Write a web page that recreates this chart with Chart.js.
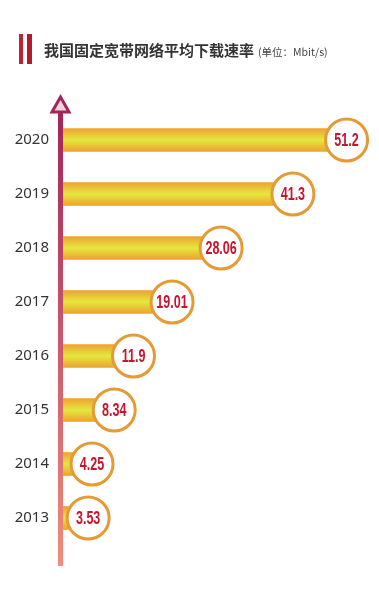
<!DOCTYPE html>
<html>
<head>
<meta charset="utf-8">
<script src="https://cdn.jsdelivr.net/npm/chart.js@4"></script>
<style>
  html, body { margin: 0; padding: 0; background: #fff; }
  #wrap { position: relative; width: 379px; height: 600px; }
  #title { position: absolute; left: 0; top: 34px; height: 30px; width: 379px; }
  .bar1 { position: absolute; left: 19px; top: 0; width: 4px; height: 30px; background: #c21f38; }
  .bar2 { position: absolute; left: 27px; top: 0; width: 5px; height: 30px; background: #b3182f; }
  .txt { position: absolute; left: 44px; top: 3px; white-space: nowrap;
         font-family: "Noto Sans CJK SC", sans-serif; color: #333; }
  .main { font-size: 15px; font-weight: bold; }
  .unit { font-size: 10.5px; color: #444; margin-left: 4px; }
  #chartBox { position: absolute; left: 0; top: 0; width: 379px; height: 600px; }
</style>
</head>
<body>
<div id="wrap">
  <div id="chartBox"><canvas id="myChart"></canvas></div>
  <div id="title">
    <div class="bar1"></div><div class="bar2"></div>
    <div class="txt"><span class="main">我国固定宽带网络平均下载速率</span><span class="unit">(单位：Mbit/s)</span></div>
  </div>
</div>
<script>
// data
const years = ['2020', '2019', '2018', '2017', '2016', '2015', '2014', '2013'];
const speeds = [51.2, 41.3, 28.06, 19.01, 11.9, 8.34, 4.25, 3.53];
const speedLabels = ['51.2', '41.3', '28.06', '19.01', '11.9', '8.34', '4.25', '3.53'];

// gradient for each bar (orange edges, yellow middle)
function barFill(context) {
    const chart = context.chart;
    const yScale = chart.scales.y;
    if (!yScale || !chart.chartArea) return '#e6c83a';
    const y = yScale.getPixelForValue(context.dataIndex);
    const g = chart.ctx.createLinearGradient(0, y - 12, 0, y + 12);
    g.addColorStop(0, '#ee9e30');
    g.addColorStop(0.5, '#e4e83e');
    g.addColorStop(1, '#ee9e30');
    return g;
}

// axis line with arrow and value bubbles
const decorPlugin = {
    id: 'decor',
    afterDatasetsDraw(chart) {
        const ctx = chart.ctx;
        const area = chart.chartArea;
        const x0 = chart.scales.x.getPixelForValue(0);

        // vertical axis line
        const top = area.top - 1;
        const bottom = area.bottom + 21;
        const lg = ctx.createLinearGradient(0, top, 0, bottom);
        lg.addColorStop(0, '#a3245a');
        lg.addColorStop(1, '#f28c7c');
        ctx.save();
        ctx.fillStyle = lg;
        ctx.fillRect(x0 - 3, top, 5, bottom - top);

        // arrow head
        ctx.beginPath();
        ctx.moveTo(x0 - 0.5, area.top - 16);
        ctx.lineTo(x0 + 8, area.top - 1);
        ctx.lineTo(x0 - 9, area.top - 1);
        ctx.closePath();
        ctx.fillStyle = '#f3d3dc';
        ctx.fill();
        ctx.lineWidth = 3;
        ctx.strokeStyle = '#a3245a';
        ctx.stroke();

        // bubbles
        const meta = chart.getDatasetMeta(0);
        meta.data.forEach((bar, i) => {
            const cx = bar.x + 8;
            const cy = bar.y;
            ctx.beginPath();
            ctx.arc(cx, cy, 21, 0, Math.PI * 2);
            ctx.fillStyle = '#ffffff';
            ctx.fill();
            ctx.lineWidth = 3;
            ctx.strokeStyle = '#e59a35';
            ctx.stroke();

            ctx.save();
            ctx.translate(cx, cy + 1);
            ctx.scale(0.66, 1);
            ctx.font = 'bold 19px "Liberation Sans", Arial, sans-serif';
            ctx.fillStyle = '#c8142c';
            ctx.textAlign = 'center';
            ctx.textBaseline = 'middle';
            ctx.fillText(speedLabels[i], 0, 0);
            ctx.restore();
        });
        ctx.restore();
    }
};

const chartData = {
    labels: years,
    datasets: [{
        data: speeds,
        backgroundColor: barFill,
        borderWidth: 0,
        barThickness: 23
    }]
};

const chartOptions = {
    indexAxis: 'y',
    responsive: true,
    maintainAspectRatio: false,
    animation: false,
    layout: { padding: { top: 113, bottom: 55, left: 0, right: 9 } },
    plugins: {
        legend: { display: false },
        tooltip: { enabled: false }
    },
    scales: {
        x: {
            display: false,
            min: 0,
            max: 57
        },
        y: {
            border: { display: false },
            grid: { display: false, drawTicks: false },
            ticks: {
                padding: 12,
                color: '#333',
                font: { family: '"Noto Sans", "Liberation Sans", sans-serif', size: 15 }
            },
            afterFit(scale) { scale.width = 61; }
        }
    }
};

window.onload = function() {
    const ctx = document.getElementById('myChart').getContext('2d');
    new Chart(ctx, { type: 'bar', data: chartData, options: chartOptions, plugins: [decorPlugin] });
};
</script>
</body>
</html>
